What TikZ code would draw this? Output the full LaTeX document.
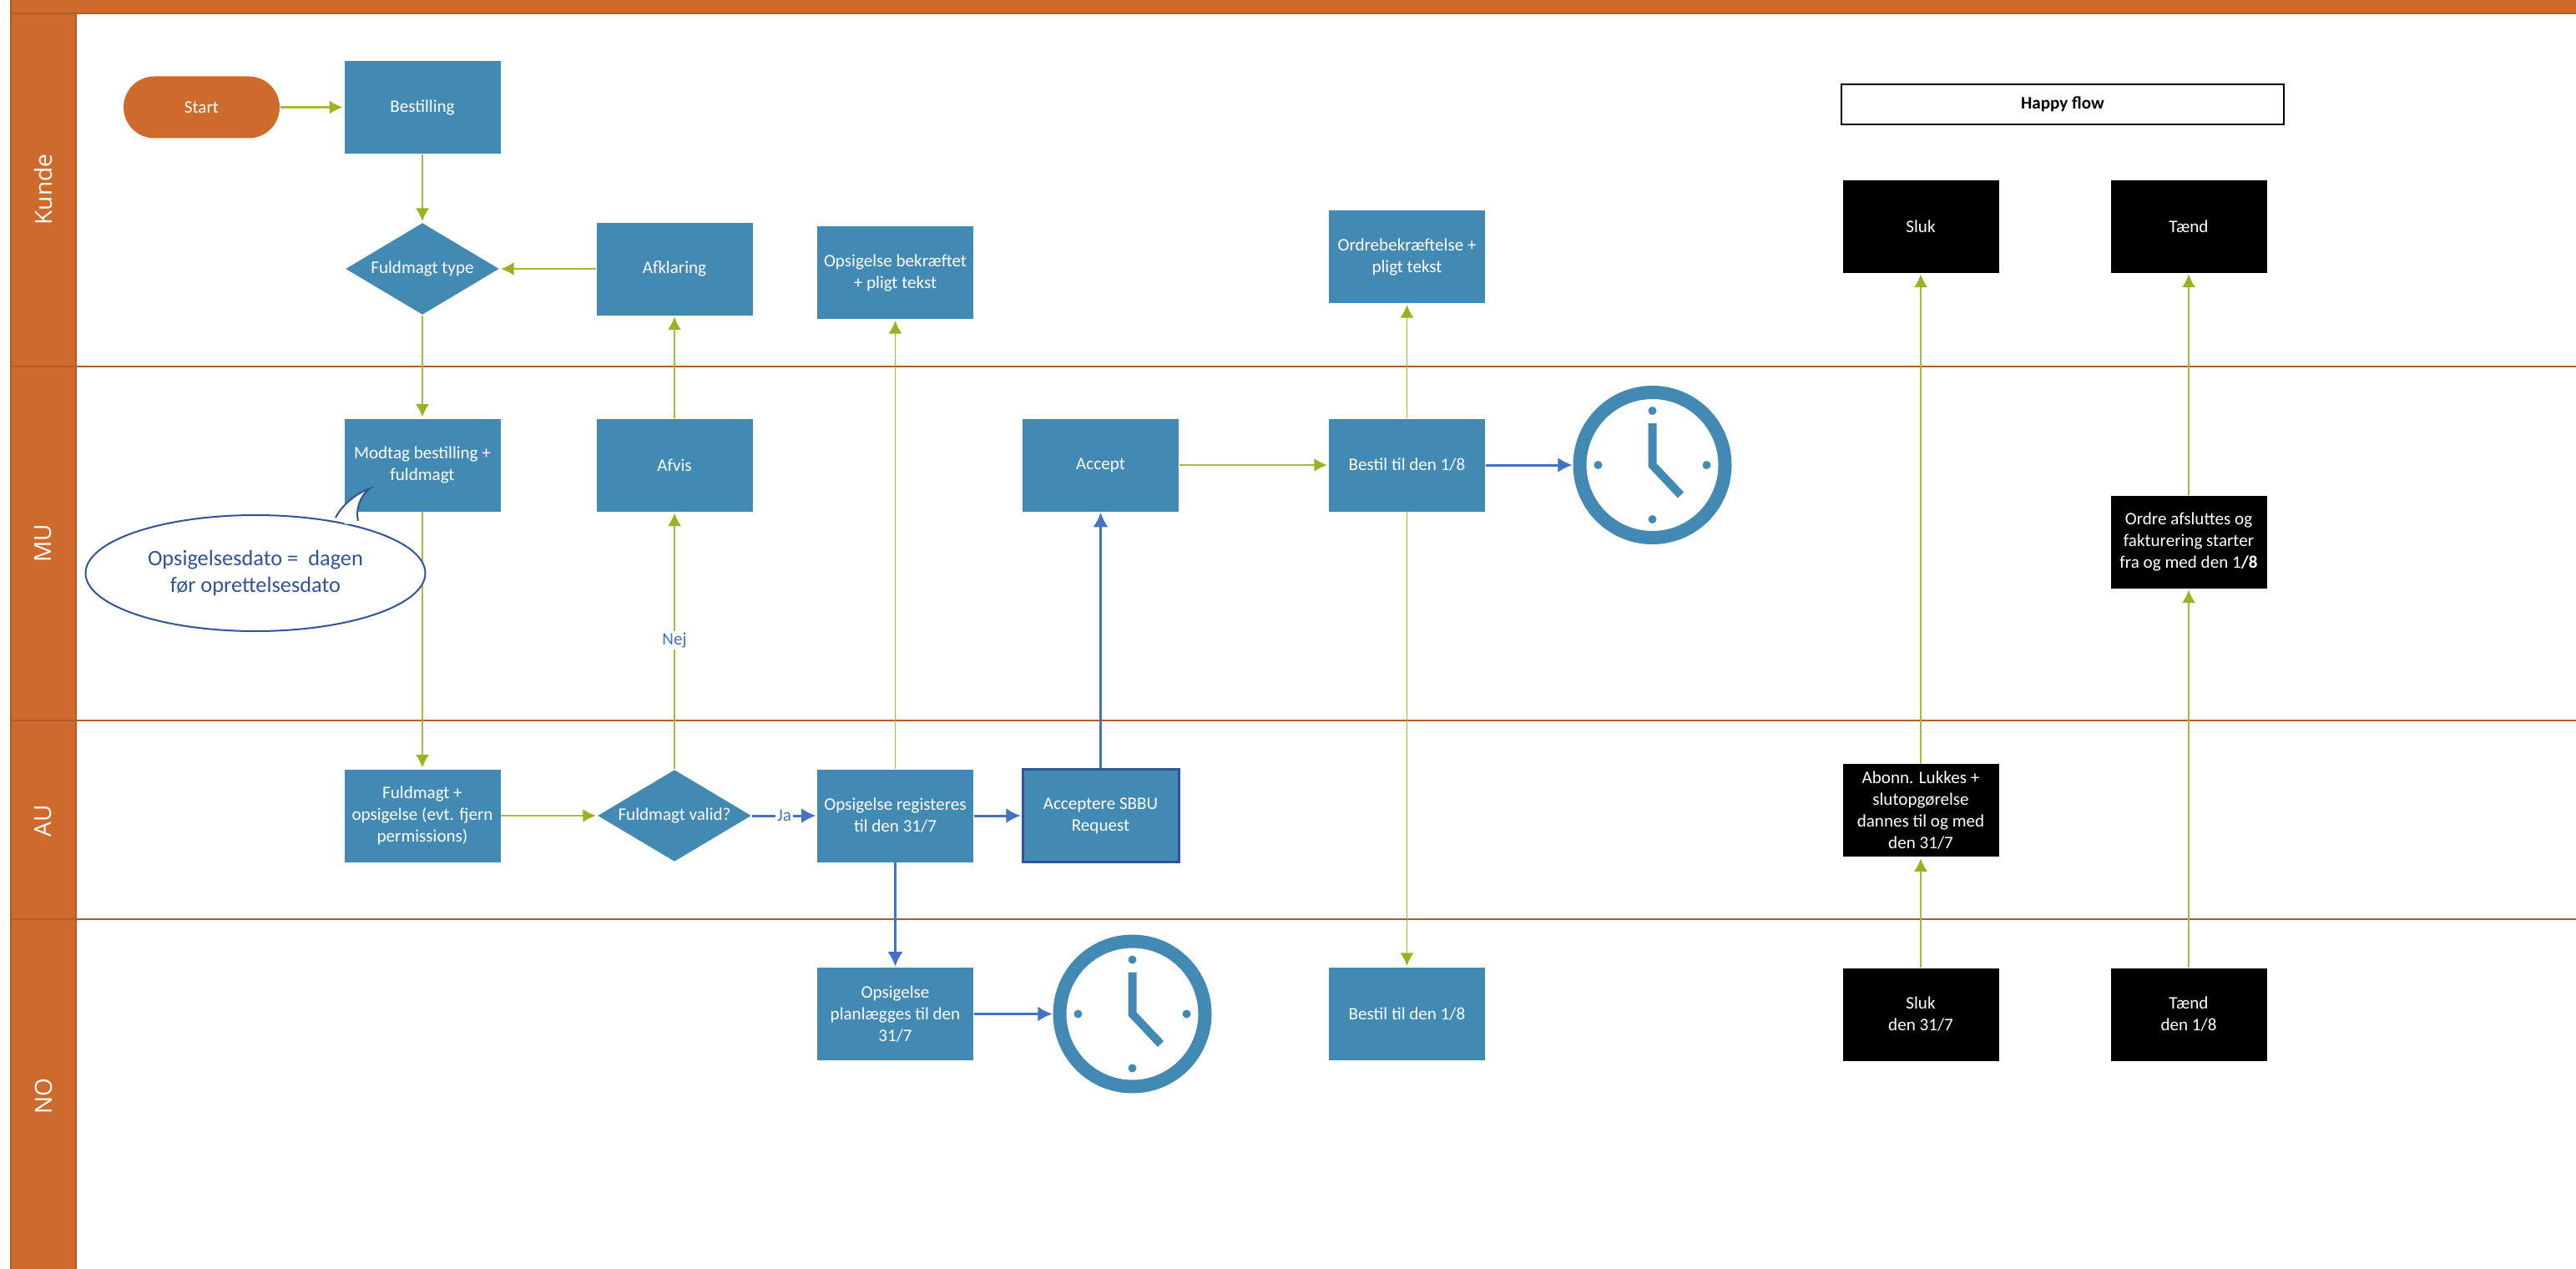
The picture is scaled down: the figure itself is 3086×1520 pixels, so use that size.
\documentclass[tikz,border=0pt]{standalone}
\usepackage{fontspec}
\setmainfont{Carlito}
\newfontfamily\lanefont{Open Sans}
\usetikzlibrary{arrows.meta,shapes.geometric}

\definecolor{laneorange}{HTML}{CE6A2B}
\definecolor{lanedark}{HTML}{B15C27}
\definecolor{boxblue}{HTML}{4289B4}
\definecolor{tipgreen}{HTML}{9DB01F}
\definecolor{linegreen}{HTML}{A9BA3A}
\definecolor{arrowblue}{HTML}{4472C4}
\definecolor{darkblue}{HTML}{2F5597}

\tikzset{
  lanebar/.style={fill=laneorange, draw=lanedark, line width=0.25mm},
  lanetext/.style={rotate=90, text=white, font=\lanefont\fontsize{8}{10}\selectfont},
  divider/.style={draw=lanedark, line width=0.27mm},
  procbox/.style={rectangle, fill=boxblue, text=white, minimum width=18.7mm, minimum height=11.1mm,
    inner sep=0pt, align=center, font=\fontsize{6}{7.4}\selectfont},
  blackbox/.style={procbox, fill=black},
  decision/.style={diamond, fill=boxblue, text=white, minimum width=18.4mm, minimum height=11mm,
    inner sep=0pt, shape aspect=1.67, font=\fontsize{6}{7.4}\selectfont},
  clockring/.style={circle, draw=boxblue, line width=1.6mm, minimum size=17.4mm, inner sep=0pt},
  greenline/.style={draw=linegreen, line width=0.16mm, shorten >=0.4pt,
    -{Latex[length=1.55mm, width=1.6mm, color=tipgreen]}},
  greenwide/.style={greenline, line width=0.23mm},
  blueline/.style={draw=arrowblue, line width=0.21mm, shorten >=0.2pt,
    -{Latex[length=1.75mm, width=1.8mm]}},
  bluewide/.style={blueline, line width=0.3mm},
  linelabel/.style={fill=white, inner sep=0.5pt, text=arrowblue, font=\fontsize{6}{7.4}\selectfont},
}

\newcommand{\clockface}[1]{
  \fill[boxblue] (#1)+(0,-65) circle (0.5mm);
  \fill[boxblue] (#1)+(0,65) circle (0.5mm);
  \fill[boxblue] (#1)+(-65,0) circle (0.5mm);
  \fill[boxblue] (#1)+(65,0) circle (0.5mm);
  \draw[boxblue, line width=1mm] (#1) ++(0,-50) -- ++(0,50) -- ++(34,36);
}

\begin{document}
\begin{tikzpicture}[x=0.1mm, y=-0.1mm]
      \path[use as bounding box, fill=white] (0,0) rectangle (3086,1520);

      % lanes
      \draw[lanebar] (13,-5) rectangle (3096,16);
      \draw[lanebar] (13,16) rectangle (91,439);
      \draw[lanebar] (13,439) rectangle (91,863);
      \draw[lanebar] (13,863) rectangle (91,1101);
      \draw[lanebar] (13,1101) rectangle (91,1530);
      \draw[divider] (91,439) -- (3086,439);
      \draw[divider] (91,863) -- (3086,863);
      \draw[divider] (91,1101) -- (3086,1101);
      \node[lanetext] (kunde) at (52,227) {Kunde};
      \node[lanetext] (mu) at (52,651) {MU};
      \node[lanetext] (au) at (52,983) {AU};
      \node[lanetext] (no) at (52,1313) {NO};

      % Kunde
      \node[procbox, fill=laneorange, minimum height=7.4mm, rounded corners=3.7mm] (start) at (241.5,128.5) {Start};
      \node[procbox] (bestilling) at (506,128.5) {Bestilling};
      \node[decision] (type) at (506,322) {Fuldmagt type};
      \node[procbox] (afklaring) at (808,322) {Afklaring};
      \node[procbox] (bekraeftet) at (1072.5,326.5) {Opsigelse bekræftet\\+ pligt tekst};
      \node[procbox] (ordrebek) at (1685.5,307.5) {Ordrebekræftelse +\\pligt tekst};
      \node[draw=black, line width=0.2mm, minimum width=53mm, minimum height=4.8mm, inner sep=0pt,
        font=\fontsize{6}{7.4}\selectfont\bfseries] (happy) at (2471,124.6) {Happy flow};
      \node[blackbox] (sluk) at (2301,271) {Sluk};
      \node[blackbox] (taend) at (2622,271) {Tænd};

      % MU
      \node[procbox] (modtag) at (506,557) {Modtag bestilling +\\fuldmagt};
      \node[procbox] (afvis) at (808,557) {Afvis};
      \node[procbox] (accept) at (1318.5,557) {Accept};
      \node[procbox] (bestilmu) at (1685.5,557) {Bestil til den 1/8};
      \node[clockring] (clockmu) at (1979.5,557) {};
      \clockface{clockmu}
      \node[blackbox] (ordre) at (2622,649) {Ordre afsluttes og\\fakturering starter\\fra og med den 1\textbf{/8}};

      % AU
      \node[procbox] (fuldmagt) at (506,977) {Fuldmagt +\\opsigelse (evt. fjern\\permissions)};
      \node[decision] (valid) at (808,977) {Fuldmagt valid?};
      \node[procbox] (registeres) at (1072.5,977) {Opsigelse registeres\\til den 31/7};
      \node[procbox, draw=darkblue, line width=0.3mm] (sbbu) at (1318.5,977) {Acceptere SBBU\\Request};
      \node[blackbox] (abonn) at (2301,970.7) {Abonn. Lukkes +\\slutopgørelse\\dannes til og med\\den 31/7};

      % NO
      \node[procbox] (planlaegges) at (1072.5,1214.5) {Opsigelse\\planlægges til den\\31/7};
      \node[clockring] (clockno) at (1356.5,1214.5) {};
      \clockface{clockno}
      \node[procbox] (bestilno) at (1685.5,1214.5) {Bestil til den 1/8};
      \node[blackbox] (slukno) at (2301,1215) {Sluk\\den 31/7};
      \node[blackbox] (taendno) at (2622,1215) {Tænd\\den 1/8};

      % connectors
      \draw[greenwide] (start) -- (bestilling);
      \draw[greenline] (bestilling) -- (type);
      \draw[greenwide] (afklaring) -- (type);
      \draw[greenline] (type) -- (modtag);
      \draw[greenline] (modtag) -- (fuldmagt);
      \draw[greenwide] (fuldmagt) -- (valid);
      \draw[greenline] (valid) -- node[linelabel] (nej) {Nej} (afvis);
      \draw[greenline] (afvis) -- (afklaring);
      \draw[bluewide] (valid) -- node[linelabel] (ja) {Ja} (registeres);
      \draw[greenline] (registeres) -- (bekraeftet);
      \draw[bluewide] (registeres) -- (sbbu);
      \draw[blueline] (registeres) -- (planlaegges);
      \draw[blueline] (sbbu) -- (accept);
      \draw[greenwide] (accept) -- (bestilmu);
      \draw[greenline] (bestilmu) -- (ordrebek);
      \draw[greenline] (bestilmu) -- (bestilno);
      \draw[bluewide] (bestilmu) -- (clockmu);
      \draw[bluewide] (planlaegges) -- (clockno);
      \draw[greenline] (slukno) -- (abonn);
      \draw[greenline] (abonn) -- (sluk);
      \draw[greenline] (taendno) -- (ordre);
      \draw[greenline] (ordre) -- (taend);

      % callout on top of the lines
      \node[ellipse, draw=darkblue, fill=white, line width=0.2mm, minimum width=40.7mm, minimum height=13.9mm,
        inner sep=0pt, align=center, text=darkblue, font=\fontsize{7.5}{9}\selectfont] (callout) at (306,686.5)
        {Opsigelsesdato =\ \ dagen\\før oprettelsesdato};
      \coordinate (tailA) at (402,620);
      \coordinate (tailB) at (429,624);
      \coordinate (tailtip) at (443,585);
      \fill[white] (tailA) .. controls (410,605) and (425,592) .. (tailtip) .. controls (430,595) and (426,612) .. (tailB) -- (415,628) -- cycle;
      \draw[darkblue, line width=0.2mm] (tailA) .. controls (410,605) and (425,592) .. (tailtip) .. controls (430,595) and (426,612) .. (tailB);
\end{tikzpicture}
\end{document}
